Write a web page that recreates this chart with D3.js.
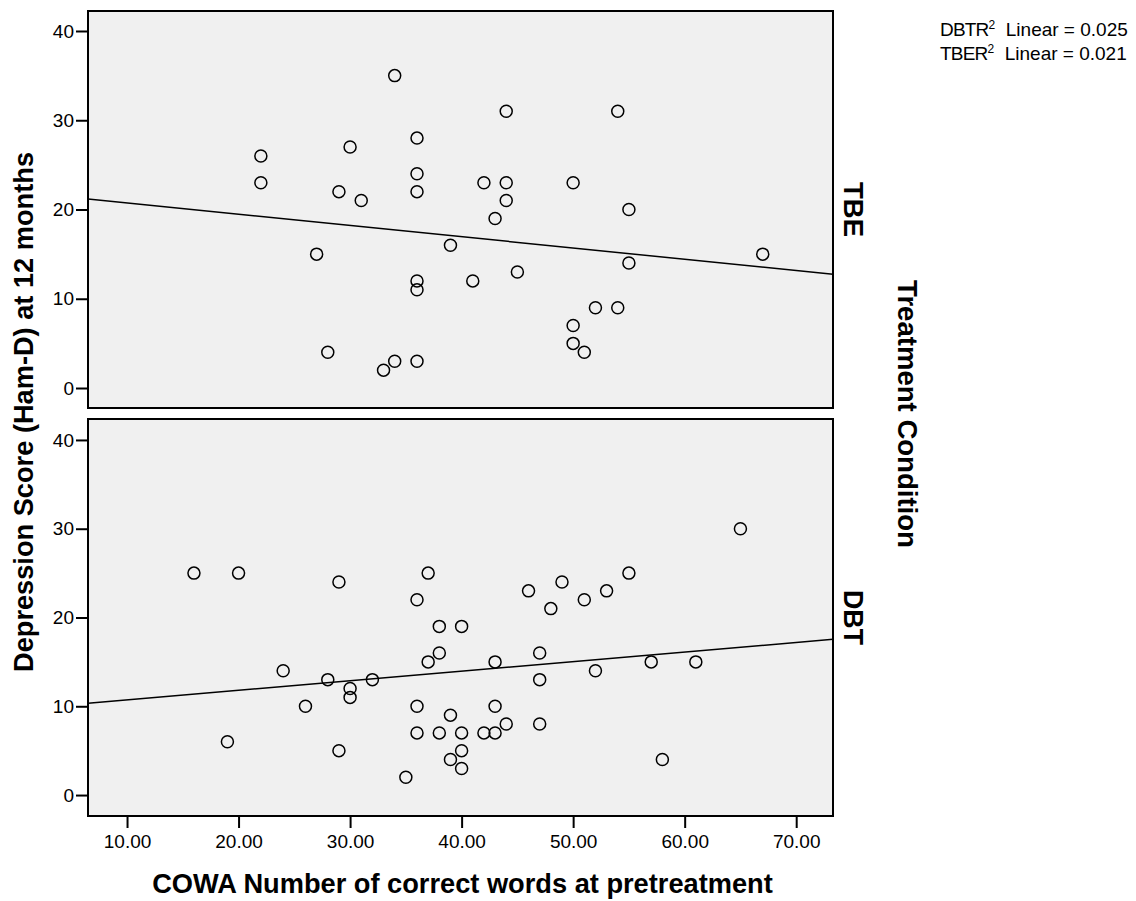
<!DOCTYPE html>
<html>
<head>
<meta charset="utf-8">
<script src="https://cdn.jsdelivr.net/npm/d3@7/dist/d3.min.js"></script>
<style>
  html, body { margin: 0; padding: 0; background: #ffffff; }
  svg { display: block; }
  text { font-family: "Liberation Sans", Arial, Helvetica, sans-serif; fill: #000; }
</style>
</head>
<body>
<svg id="chart" width="1136" height="901"></svg>
<script>
// ---------- DATA ----------
const panels = ["TBE", "DBT"];
const xTicks = [10, 20, 30, 40, 50, 60, 70];
const yTicks = [0, 10, 20, 30, 40];

// TBE: COWA words (x) and Ham-D at 12 months (y)
const tbeX = [22, 22, 27, 28, 29, 30, 31, 33, 34, 34, 36, 36, 36, 36, 36, 36, 39, 41, 42, 43, 44, 44, 44, 45, 50, 50, 50, 51, 52, 54, 54, 55, 55, 67];
const tbeY = [26, 23, 15, 4, 22, 27, 21, 2, 3, 35, 28, 24, 22, 12, 11, 3, 16, 12, 23, 19, 31, 23, 21, 13, 23, 7, 5, 4, 9, 31, 9, 20, 14, 15];

// DBT
const dbtX = [16, 20, 19, 24, 26, 28, 29, 29, 30, 30, 32, 35, 36, 36, 36, 37, 37, 38, 38, 38, 39, 39, 40, 40, 40, 40, 42, 43, 43, 43, 44, 46, 47, 47, 47, 48, 49, 51, 52, 53, 55, 57, 58, 61, 65];
const dbtY = [25, 25, 6, 14, 10, 13, 24, 5, 12, 11, 13, 2, 22, 10, 7, 25, 15, 19, 16, 7, 9, 4, 19, 7, 5, 3, 7, 15, 10, 7, 8, 23, 16, 13, 8, 21, 24, 22, 14, 23, 25, 15, 4, 15, 30];

const legendLines = [
  { group: "DBT", label: "R", sup: "2", text: "Linear = 0.025" },
  { group: "TBE", label: "R", sup: "2", text: "Linear = 0.021" }
];
const xTitle = "COWA Number of correct words at pretreatment";
const yTitle = "Depression Score (Ham-D) at 12 months";
const facetTitle = "Treatment Condition";

// ---------- LAYOUT ----------
const svg = d3.select("#chart");
const plotLeft = 88, plotRight = 833;
const panelRanges = {
  TBE: { top: 11, bottom: 408, domain: [-2.24, 42.24] },
  DBT: { top: 419, bottom: 816, domain: [-2.36, 42.36] }
};
const dataByPanel = {
  TBE: tbeX.map((x, i) => ({ x, y: tbeY[i] })),
  DBT: dbtX.map((x, i) => ({ x, y: dbtY[i] }))
};

const x = d3.scaleLinear().domain([6.5, 73.3]).range([plotLeft, plotRight]);

function fitText(sel, target) {
  const node = sel.node();
  let fs = parseFloat(sel.attr("font-size"));
  for (let k = 0; k < 3; k++) {
    const w = node.getComputedTextLength();
    fs = fs * target / w;
    sel.attr("font-size", fs);
  }
}

function linReg(pts) {
  const mx = d3.mean(pts, d => d.x), my = d3.mean(pts, d => d.y);
  let sxy = 0, sxx = 0;
  pts.forEach(d => { sxy += (d.x - mx) * (d.y - my); sxx += (d.x - mx) ** 2; });
  const b = sxy / sxx;
  return { a: my - b * mx, b };
}

panels.forEach(p => {
  const cfg = panelRanges[p];
  const y = d3.scaleLinear().domain(cfg.domain).range([cfg.bottom, cfg.top]);
  const g = svg.append("g");

  // panel background
  g.append("rect")
    .attr("x", plotLeft).attr("y", cfg.top)
    .attr("width", plotRight - plotLeft).attr("height", cfg.bottom - cfg.top)
    .attr("fill", "#f0f0f0");

  // y axis
  const yAxis = d3.axisLeft(y).tickValues(yTicks).tickSize(12).tickPadding(2).tickFormat(d3.format("d"));
  const ya = g.append("g").attr("transform", `translate(${plotLeft},0)`).call(yAxis);
  ya.select(".domain").remove();
  ya.selectAll(".tick line").attr("stroke", "#000").attr("stroke-width", 2);
  ya.selectAll(".tick text").attr("font-size", 19).attr("font-family", "Liberation Sans, Arial, sans-serif").attr("fill", "#000");

  // x axis only on bottom panel
  if (p === "DBT") {
    const xAxis = d3.axisBottom(x).tickValues(xTicks).tickSize(12).tickPadding(7).tickFormat(d3.format(".2f"));
    const xa = g.append("g").attr("transform", `translate(0,${cfg.bottom})`).call(xAxis);
    xa.select(".domain").remove();
    xa.selectAll(".tick line").attr("stroke", "#000").attr("stroke-width", 2);
    xa.selectAll(".tick text").attr("font-size", 19).attr("font-family", "Liberation Sans, Arial, sans-serif").attr("fill", "#000");
  }

  // clip for regression line
  const clipId = "clip-" + p;
  svg.append("clipPath").attr("id", clipId).append("rect")
    .attr("x", plotLeft).attr("y", cfg.top)
    .attr("width", plotRight - plotLeft).attr("height", cfg.bottom - cfg.top);

  // regression line
  const r = linReg(dataByPanel[p]);
  const [x0, x1] = x.domain();
  g.append("line")
    .attr("clip-path", `url(#${clipId})`)
    .attr("x1", x(x0)).attr("y1", y(r.a + r.b * x0))
    .attr("x2", x(x1)).attr("y2", y(r.a + r.b * x1))
    .attr("stroke", "#000").attr("stroke-width", 1.5);

  // points
  g.selectAll("circle.pt").data(dataByPanel[p]).join("circle")
    .attr("class", "pt")
    .attr("cx", d => x(d.x)).attr("cy", d => y(d.y))
    .attr("r", 6)
    .attr("fill", "none").attr("stroke", "#000").attr("stroke-width", 1.5);

  // frame
  g.append("rect")
    .attr("x", plotLeft).attr("y", cfg.top)
    .attr("width", plotRight - plotLeft).attr("height", cfg.bottom - cfg.top)
    .attr("fill", "none").attr("stroke", "#000").attr("stroke-width", 2);

  // panel label
  const cy = (cfg.top + cfg.bottom) / 2;
  const pl = svg.append("text")
    .attr("transform", `translate(853,${cy}) rotate(90)`)
    .attr("text-anchor", "middle").attr("dominant-baseline", "central")
    .attr("font-weight", "bold").attr("font-size", 27)
    .text(p);
  fitText(pl, 55);
});

// axis titles
const xt = svg.append("text")
  .attr("x", 462.5).attr("y", 893)
  .attr("text-anchor", "middle").attr("font-weight", "bold").attr("font-size", 24)
  .text(xTitle);
fitText(xt, 621);

const yt = svg.append("text")
  .attr("transform", "translate(33,412) rotate(-90)")
  .attr("text-anchor", "middle").attr("font-weight", "bold").attr("font-size", 24)
  .text(yTitle);
fitText(yt, 520);

const ft = svg.append("text")
  .attr("transform", "translate(898,414) rotate(90)")
  .attr("text-anchor", "middle").attr("font-weight", "bold").attr("font-size", 24)
  .text(facetTitle);
fitText(ft, 268);

// legend (R-squared annotations)
legendLines.forEach((l, i) => {
  const t = svg.append("text")
    .attr("x", 940).attr("y", 36 + i * 23.5)
    .attr("font-size", 19);
  t.append("tspan").text(l.group + l.label).attr("letter-spacing", -0.8);
  t.append("tspan").text(l.sup).attr("font-size", 12).attr("dy", -7);
  t.append("tspan").text("\u00a0 " + l.text).attr("dy", 7).attr("font-size", 19);
});
</script>
</body>
</html>
